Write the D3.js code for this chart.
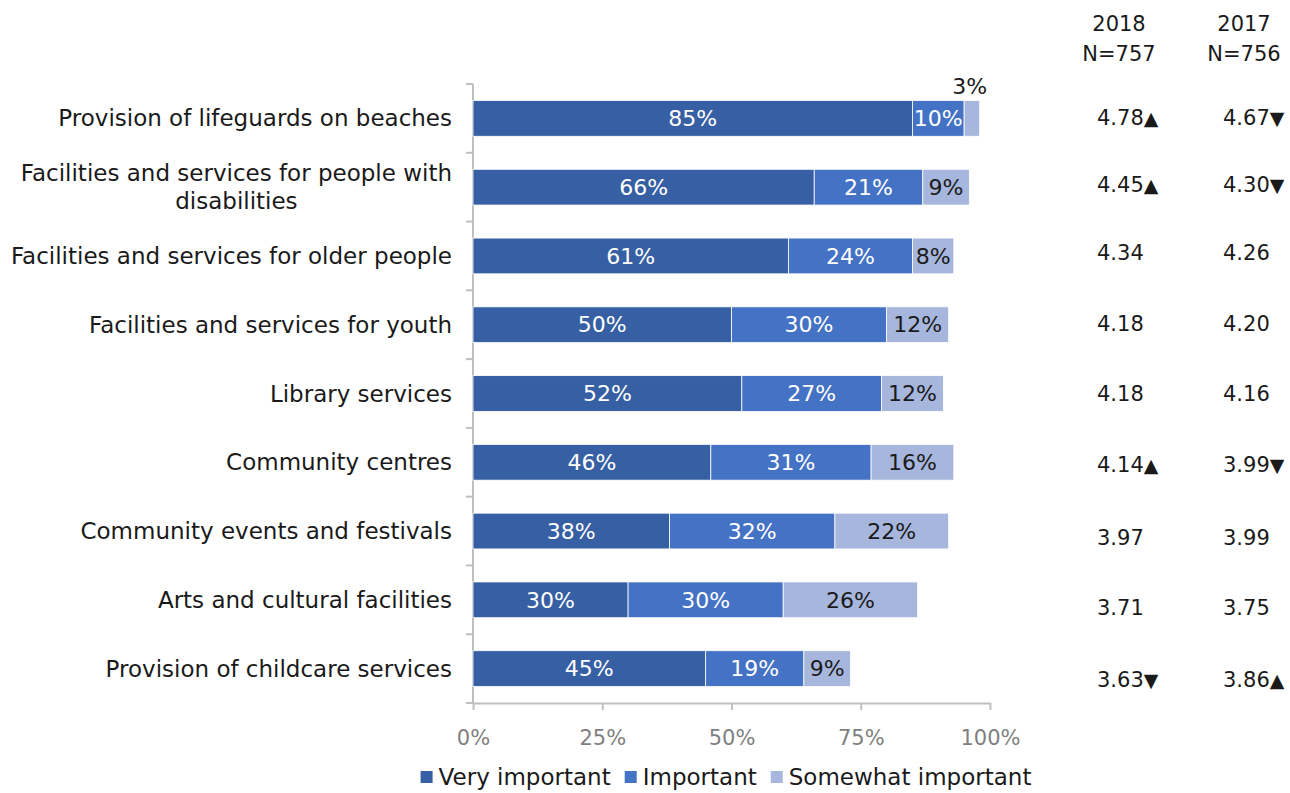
<!DOCTYPE html>
<html>
<head>
<meta charset="utf-8">
<script src="https://cdn.jsdelivr.net/npm/d3@7"></script>
<style>
  html, body { margin: 0; padding: 0; background: #fff; }
  svg { display: block; font-family: "DejaVu Sans", sans-serif; }
</style>
</head>
<body>
<svg id="chart" width="1290" height="793"></svg>
<script>
// Services rated by importance, share of respondents (%)
const categories = [
  ["Provision of lifeguards on beaches"],
  ["Facilities and services for people with", "disabilities"],
  ["Facilities and services for older people"],
  ["Facilities and services for youth"],
  ["Library services"],
  ["Community centres"],
  ["Community events and festivals"],
  ["Arts and cultural facilities"],
  ["Provision of childcare services"]
];
const seriesNames = ["Very important", "Important", "Somewhat important"];
const veryImportant     = [85, 66, 61, 50, 52, 46, 38, 30, 45];
const important         = [10, 21, 24, 30, 27, 31, 32, 30, 19];
const somewhatImportant = [3, 9, 8, 12, 12, 16, 22, 26, 9];

// Mean scores by survey year; marker shows significant change
const yearHeaders = [["2018", "N=757"], ["2017", "N=756"]];
const mean2018 = ["4.78", "4.45", "4.34", "4.18", "4.18", "4.14", "3.97", "3.71", "3.63"];
const mark2018 = ["▲", "▲", "", "", "", "▲", "", "", "▼"];
const mean2017 = ["4.67", "4.30", "4.26", "4.20", "4.16", "3.99", "3.99", "3.75", "3.86"];
const mark2017 = ["▼", "▼", "", "", "", "▼", "", "", "▲"];

const xTicks = [0, 25, 50, 75, 100];
const colors = ["#375fa3", "#4472c4", "#a7b6dc"];
const labelColors = ["#ffffff", "#ffffff", "#1a1a1a"];

const svg = d3.select("#chart");

const x = d3.scaleLinear().domain([0, 100]).range([473, 990]);
const y = d3.scaleBand().domain(d3.range(categories.length)).range([84, 703]).paddingInner(0.48).paddingOuter(0.24);

const rows = categories.map((c, i) => ({
  i, vals: [veryImportant[i], important[i], somewhatImportant[i]]
}));
const stack = d3.stack().keys([0, 1, 2]).value((d, k) => d.vals[k]);
const layers = stack(rows);

// Value axis
const gx = svg.append("g").attr("transform", "translate(0,703)")
  .call(d3.axisBottom(x).tickValues(xTicks).tickFormat(d => d + "%").tickSize(7).tickSizeOuter(0));
gx.select(".domain").attr("stroke", "#bfbfbf").attr("stroke-width", 2);
gx.selectAll(".tick line").attr("stroke", "#bfbfbf").attr("stroke-width", 2);
gx.selectAll(".tick text").attr("fill", "#7f7f7f").attr("font-size", 21).attr("dy", "1.5em")
  .attr("font-family", "DejaVu Sans, sans-serif");

// Category axis: line with tick marks between bands
const yAxisG = svg.append("g");
yAxisG.append("line").attr("x1", 473).attr("x2", 473).attr("y1", 84).attr("y2", 703)
  .attr("stroke", "#bfbfbf").attr("stroke-width", 2);
const boundaries = d3.range(categories.length + 1).map(k => 84 + k * (619 / categories.length));
yAxisG.selectAll("line.tk").data(boundaries).join("line").attr("class", "tk")
  .attr("x1", 466).attr("x2", 473).attr("y1", d => d).attr("y2", d => d)
  .attr("stroke", "#bfbfbf").attr("stroke-width", 2);

// Category labels
const catG = svg.append("g");
categories.forEach((lines, i) => {
  const cy = y(i) + y.bandwidth() / 2;
  const t = catG.append("text").attr("font-size", 23).attr("fill", "#1a1a1a");
  if (lines.length === 1) {
    t.attr("x", 452).attr("y", cy).attr("dy", "0.35em").attr("text-anchor", "end").text(lines[0]);
  } else {
    t.attr("text-anchor", "end").attr("x", 452).attr("y", cy - 14).attr("dy", "0.35em").text(lines[0]);
    const w = t.node().getComputedTextLength();
    catG.append("text").attr("font-size", 23).attr("fill", "#1a1a1a")
      .attr("text-anchor", "middle").attr("x", 452 - w / 2).attr("y", cy + 14).attr("dy", "0.35em").text(lines[1]);
  }
});

// Bars
const barG = svg.append("g");
layers.forEach((layer, k) => {
  barG.selectAll(null).data(layer).join("rect")
    .attr("x", d => x(d[0])).attr("width", d => x(d[1]) - x(d[0]))
    .attr("y", d => y(d.data.i)).attr("height", y.bandwidth())
    .attr("fill", colors[k]).attr("stroke", "#ffffff").attr("stroke-width", 0.8);
});

// Segment labels (a segment too narrow for its label gets it above the bar end)
const narrow = d => x(d[1]) - x(d[0]) < 25;
layers.forEach((layer, k) => {
  barG.selectAll(null).data(layer).join("text")
    .attr("font-size", 22)
    .attr("text-anchor", "middle")
    .attr("fill", d => narrow(d) ? "#1a1a1a" : labelColors[k])
    .attr("x", d => narrow(d) ? x(d[1]) - 10 : (x(d[0]) + x(d[1])) / 2)
    .attr("y", d => narrow(d) ? y(d.data.i) - 14 : y(d.data.i) + y.bandwidth() / 2)
    .attr("dy", "0.35em")
    .text(d => (d[1] - d[0]) + "%");
});

// Year columns
const colX = [1119, 1244];
const colLeft = [1097, 1223];
yearHeaders.forEach((h, j) => {
  h.forEach((line, r) => {
    svg.append("text").attr("x", colX[j]).attr("y", 24 + r * 30).attr("dy", "0.35em")
      .attr("text-anchor", "middle").attr("font-size", 21).attr("fill", "#1a1a1a").text(line);
  });
});
const tableRowY = [118, 185, 253, 324, 394, 465, 538, 608, 680];
[[mean2018, mark2018], [mean2017, mark2017]].forEach(([vals, marks], j) => {
  vals.forEach((v, i) => {
    const t = svg.append("text").attr("x", colLeft[j]).attr("y", tableRowY[i]).attr("dy", "0.35em")
      .attr("font-size", 21).attr("fill", "#1a1a1a");
    t.append("tspan").text(v);
    if (marks[i]) t.append("tspan").attr("font-size", 19).text(marks[i]);
  });
});

// Legend, laid out left to right and centred under the plot
const legend = svg.append("g");
let lx = 0;
seriesNames.forEach((name, k) => {
  const item = legend.append("g").attr("transform", `translate(${lx},0)`);
  item.append("rect").attr("x", 0).attr("y", 771).attr("width", 12).attr("height", 12).attr("fill", colors[k]);
  const t = item.append("text").attr("x", 18).attr("y", 777).attr("dy", "0.35em")
    .attr("font-size", 23).attr("fill", "#1a1a1a").text(name);
  lx += 18 + t.node().getComputedTextLength() + 14;
});
const legendW = lx - 14;
legend.attr("transform", `translate(${726 - legendW / 2},0)`);
</script>
</body>
</html>
